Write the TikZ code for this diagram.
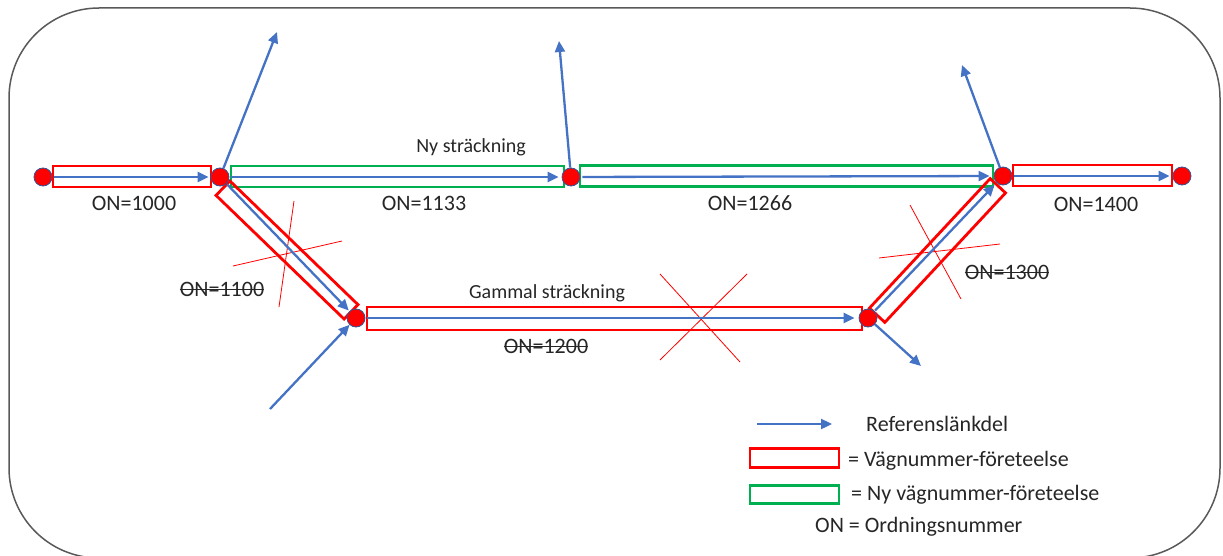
\documentclass[tikz,border=0pt]{standalone}
\usepackage{fontspec}
\setmainfont{Carlito}
\usetikzlibrary{arrows.meta}
\definecolor{arrowblue}{HTML}{4472C4}
\definecolor{boxred}{HTML}{FF0000}
\definecolor{boxgreen}{HTML}{00B050}
\definecolor{dotedge}{HTML}{2F5597}
\definecolor{framegray}{HTML}{595959}
\definecolor{txt}{HTML}{262626}
\begin{document}
\begin{tikzpicture}[x=1pt,y=-1pt,
  dot/.style={circle,fill=boxred,draw=dotedge,line width=0.8pt,minimum size=18pt,inner sep=0pt},
  redbox/.style={draw=boxred,line width=2.8pt,minimum height=21pt,inner sep=0pt,outer sep=0pt},
  greenbox/.style={draw=boxgreen,line width=2.8pt,minimum height=21pt,inner sep=0pt,outer sep=0pt},
  link/.style={draw=arrowblue,line width=2.3pt,-{Triangle[length=11pt,width=10pt]}},
  cross/.style={draw=boxred,line width=0.8pt},
  lbl/.style={font=\fontsize{22}{26}\selectfont,text=txt,inner sep=0pt},
  slbl/.style={font=\fontsize{20}{24}\selectfont,text=txt,inner sep=0pt},
  strike/.style={draw=txt,line width=0.9pt},
]
\useasboundingbox (0,0) rectangle (1223,556);
\draw[framegray,line width=1.5pt,rounded corners=90pt] (9,8) rectangle (1220,558);

% boxes
\node[redbox,minimum width=158pt] (r1000) at (132,176.5) {};
\node[greenbox,minimum width=333pt] (g1133) at (397.5,176.5) {};
\node[greenbox,minimum width=413pt] (g1266) at (786.5,176) {};
\node[redbox,minimum width=159pt] (r1400) at (1092.5,175.5) {};
\node[redbox,minimum width=495pt,minimum height=23pt] (r1200) at (614.5,318.5) {};
\node[redbox,minimum width=178pt,minimum height=20pt,rotate=-44] (r1100) at (287,250) {};
\node[redbox,minimum width=177pt,minimum height=21pt,rotate=47] (r1300) at (937.5,250.5) {};

% crosses
\draw[cross] (294,201) -- (279,307);
\draw[cross] (233,266) -- (342,241);
\draw[cross] (660,274) -- (740,362);
\draw[cross] (747,274) -- (660,360);
\draw[cross] (910,205) -- (961,299);
\draw[cross] (879,258) -- (1000,244);

% junction dots
\node[dot] (A) at (43,177) {};
\node[dot] (B) at (220,177) {};
\node[dot] (C) at (571,177) {};
\node[dot] (D) at (1003,176) {};
\node[dot] (E) at (1182,176) {};
\node[dot] (F) at (356,318) {};
\node[dot] (G) at (868,318) {};

% free ends
\coordinate (bu) at (277,32);
\coordinate (cu) at (559,41);
\coordinate (du) at (962,65);
\coordinate (fin) at (270,409);
\coordinate (gout) at (921,366);

% links
\draw[link,shorten <=2pt,shorten >=2pt] (A) -- (B);
\draw[link,shorten <=2pt,shorten >=3pt] (B) -- (C);
\draw[link,shorten <=2pt,shorten >=4pt] (C) -- (D);
\draw[link,shorten <=2pt,shorten >=3pt] (D) -- (E);
\draw[link,shorten <=1pt,shorten >=1pt] (B) -- (F);
\draw[link,shorten <=2pt,shorten >=4pt] (F) -- (G);
\draw[link,shorten <=1pt,shorten >=3pt] (G) -- (D);
\draw[link] (B) -- (bu);
\draw[link] (C) -- (cu);
\draw[link] (D) -- (du);
\draw[link] (fin) -- (F);
\draw[link] (G) -- (gout);

% labels
\node[lbl] (t1000) at (134,203) {ON=1000};
\node[lbl] (t1133) at (424,203) {ON=1133};
\node[lbl] (t1266) at (750,203) {ON=1266};
\node[lbl] (t1400) at (1096,204) {ON=1400};
\node[slbl] (tny) at (471,147) {Ny sträckning};
\node[slbl] (tgam) at (547,293) {Gammal sträckning};
\node[lbl] (t1100) at (222,289) {ON=1100};
\node[lbl] (t1200) at (546,346) {ON=1200};
\node[lbl] (t1300) at (1007,272) {ON=1300};
\draw[strike] (t1100.west) -- (t1100.east);
\draw[strike] (t1200.west) -- (t1200.east);
\draw[strike] (t1300.west) -- (t1300.east);

% legend
\coordinate (la) at (757,424);
\coordinate (lb) at (832,424);
\draw[link] (la) -- (lb);
\node[lbl,anchor=west] (lref) at (866,424) {Referenslänkdel};
\node[redbox,minimum width=89pt,minimum height=19pt] (lred) at (794.5,458) {};
\node[lbl,anchor=west] (lredt) at (848,461) {= Vägnummer-företeelse};
\node[greenbox,minimum width=89pt,minimum height=18pt] (lgreen) at (794.5,494.5) {};
\node[lbl,anchor=west] (lgreent) at (851,495) {= Ny vägnummer-företeelse};
\node[lbl,anchor=west] (lon) at (815,527) {ON = Ordningsnummer};
\end{tikzpicture}
\end{document}
